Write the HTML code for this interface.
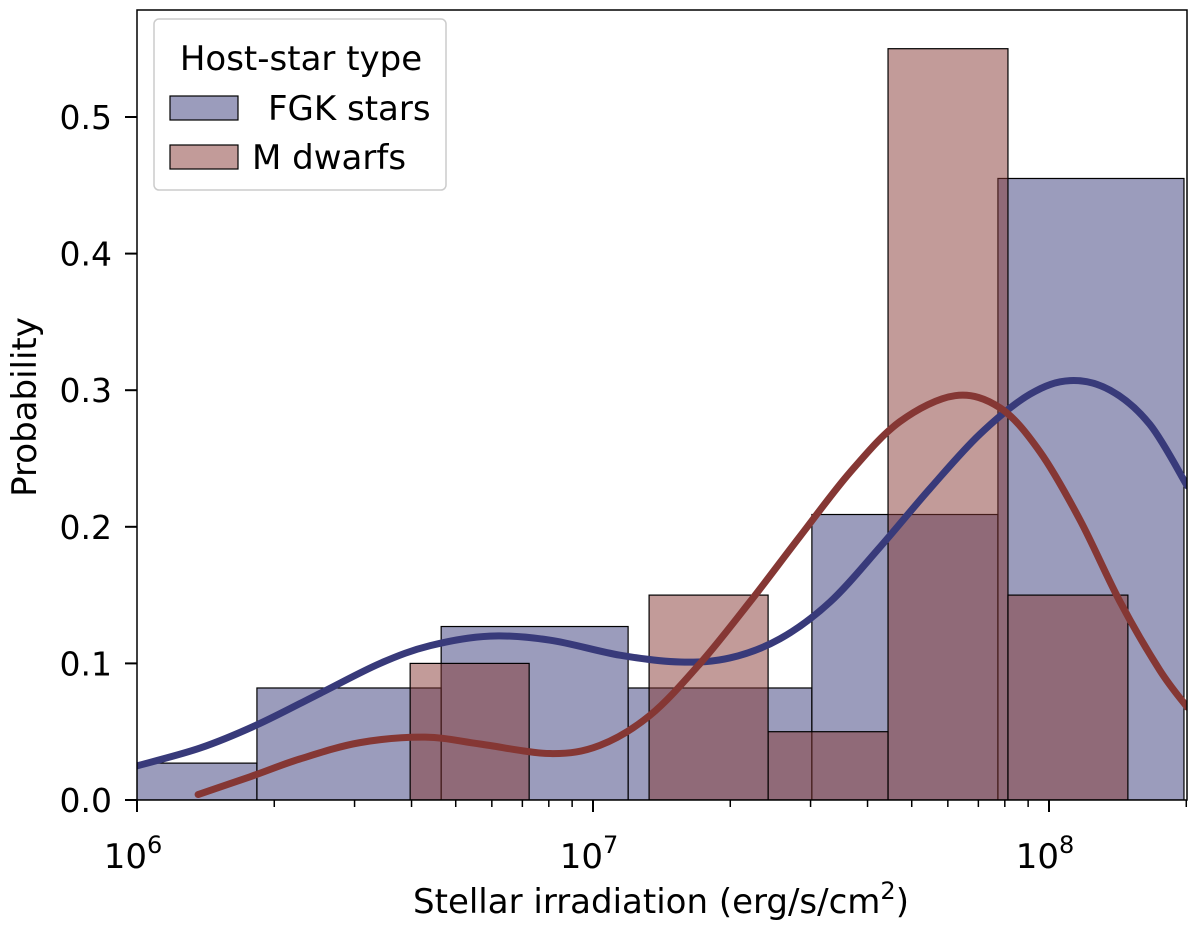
<!DOCTYPE html>
<html><head><meta charset="utf-8"><style>
body{margin:0;background:#fff;}
svg{font-family:"DejaVu Sans","Liberation Sans",sans-serif;}
</style></head><body>
<svg id="chart" width="1200" height="925" xmlns="http://www.w3.org/2000/svg">
<defs><clipPath id="clip"><rect x="137" y="10" width="1050" height="790"/></clipPath></defs>
<g id="bars" clip-path="url(#clip)"></g>
<g id="curves" clip-path="url(#clip)"></g>
<rect x="137" y="10" width="1050" height="790" fill="none" stroke="#000" stroke-width="1.5"/>
<g id="axes"></g>
<text x="661" y="913" font-size="34" text-anchor="middle">Stellar irradiation (erg/s/cm<tspan font-size="24" dy="-14">2</tspan><tspan dy="14">)</tspan></text>
<text transform="translate(36,407) rotate(-90)" font-size="34" text-anchor="middle">Probability</text>
<g>
<rect x="154" y="19" width="292" height="171" rx="5" fill="#fff" fill-opacity="0.8" stroke="#ccc" stroke-width="1.5"/>
<text x="301" y="70" font-size="34" text-anchor="middle">Host-star type</text>
<rect x="170" y="96" width="68" height="24" fill="#383a7a" fill-opacity="0.5" stroke="#000" stroke-width="1.2"/>
<text x="268" y="120" font-size="34">FGK stars</text>
<rect x="170" y="145" width="68" height="24" fill="#853734" fill-opacity="0.5" stroke="#000" stroke-width="1.2"/>
<text x="252" y="169" font-size="34">M dwarfs</text>
</g>
</svg>
<script>
const fgkEdges=[5.855,6.263,6.667,7.077,7.480,7.888,8.296];
const fgkHeights=[0.027,0.082,0.127,0.082,0.209,0.455];
const mEdges=[6.599,6.860,7.123,7.384,7.647,7.910,8.173];
const mHeights=[0.100,0.0,0.150,0.050,0.550,0.150];
const fgkKdeX=[6.0,6.138,6.263,6.401,6.533,6.643,6.774,6.906,7.059,7.191,7.300,7.410,7.520,7.629,7.739,7.849,7.958,8.046,8.134,8.221,8.303];
const fgkKdeY=[0.025,0.038,0.055,0.078,0.100,0.113,0.120,0.117,0.106,0.101,0.104,0.118,0.145,0.185,0.228,0.268,0.297,0.307,0.300,0.275,0.230];
const mKdeX=[6.134,6.248,6.357,6.489,6.632,6.752,6.906,7.015,7.125,7.235,7.344,7.454,7.564,7.673,7.794,7.893,7.980,8.068,8.156,8.243,8.303];
const mKdeY=[0.004,0.017,0.030,0.042,0.046,0.041,0.034,0.040,0.062,0.100,0.145,0.193,0.240,0.277,0.296,0.287,0.255,0.205,0.145,0.095,0.068];
const yTicks=[0,0.1,0.2,0.3,0.4,0.5];
const xMajor=[6,7,8];
const NS="http://www.w3.org/2000/svg";
const X=l=>137+(l-6)*456, Y=v=>800-v*1366;
function mk(t,a,p){const e=document.createElementNS(NS,t);for(const k in a)e.setAttribute(k,a[k]);p.appendChild(e);return e;}
const bars=document.getElementById('bars');
function drawBars(edges,h,col,name){h.forEach((v,i)=>{if(v<=0)return;const x0=X(edges[i]),x1=X(edges[i+1]);
const r=mk('rect',{x:x0,y:Y(v),width:x1-x0,height:800-Y(v),fill:col,'fill-opacity':0.5,stroke:'#000','stroke-width':1.2},bars);

});}
drawBars(fgkEdges,fgkHeights,'#383a7a','fgk');
drawBars(mEdges,mHeights,'#853734','m');
function spline(xs,ys){const p=xs.map((x,i)=>[X(x),Y(ys[i])]);let d='M'+p[0];
for(let i=0;i<p.length-1;i++){const p0=p[i-1]||p[i],p1=p[i],p2=p[i+1],p3=p[i+2]||p2;
d+=' C'+(p1[0]+(p2[0]-p0[0])/6)+','+(p1[1]+(p2[1]-p0[1])/6)+' '+(p2[0]-(p3[0]-p1[0])/6)+','+(p2[1]-(p3[1]-p1[1])/6)+' '+p2;}return d;}
const curves=document.getElementById('curves');
const c1=mk('path',{d:spline(fgkKdeX,fgkKdeY),fill:'none',stroke:'#383a7a','stroke-width':7,'stroke-linecap':'round'},curves);


const c2=mk('path',{d:spline(mKdeX,mKdeY),fill:'none',stroke:'#853734','stroke-width':7,'stroke-linecap':'round'},curves);


const ax=document.getElementById('axes');
yTicks.forEach(v=>{mk('line',{x1:125,x2:137,y1:Y(v),y2:Y(v),stroke:'#000','stroke-width':2},ax);
const t=mk('text',{x:112,y:Y(v)+12,'font-size':33,'text-anchor':'end'},ax);t.textContent=v.toFixed(1);

});
for(let d=6;d<=8;d++)for(let m=2;m<=9;m++){const l=d+Math.log10(m);if(X(l)>1187)break;
mk('line',{x1:X(l),x2:X(l),y1:800,y2:807,stroke:'#000','stroke-width':1.5},ax);}
xMajor.forEach(e=>{mk('line',{x1:X(e),x2:X(e),y1:800,y2:812,stroke:'#000','stroke-width':2},ax);
const t=mk('text',{x:X(e)-4,y:868,'font-size':34,'text-anchor':'middle'},ax);
t.innerHTML='10<tspan font-size="24" dy="-15">'+e+'</tspan>';

});
</script>
</body></html>
